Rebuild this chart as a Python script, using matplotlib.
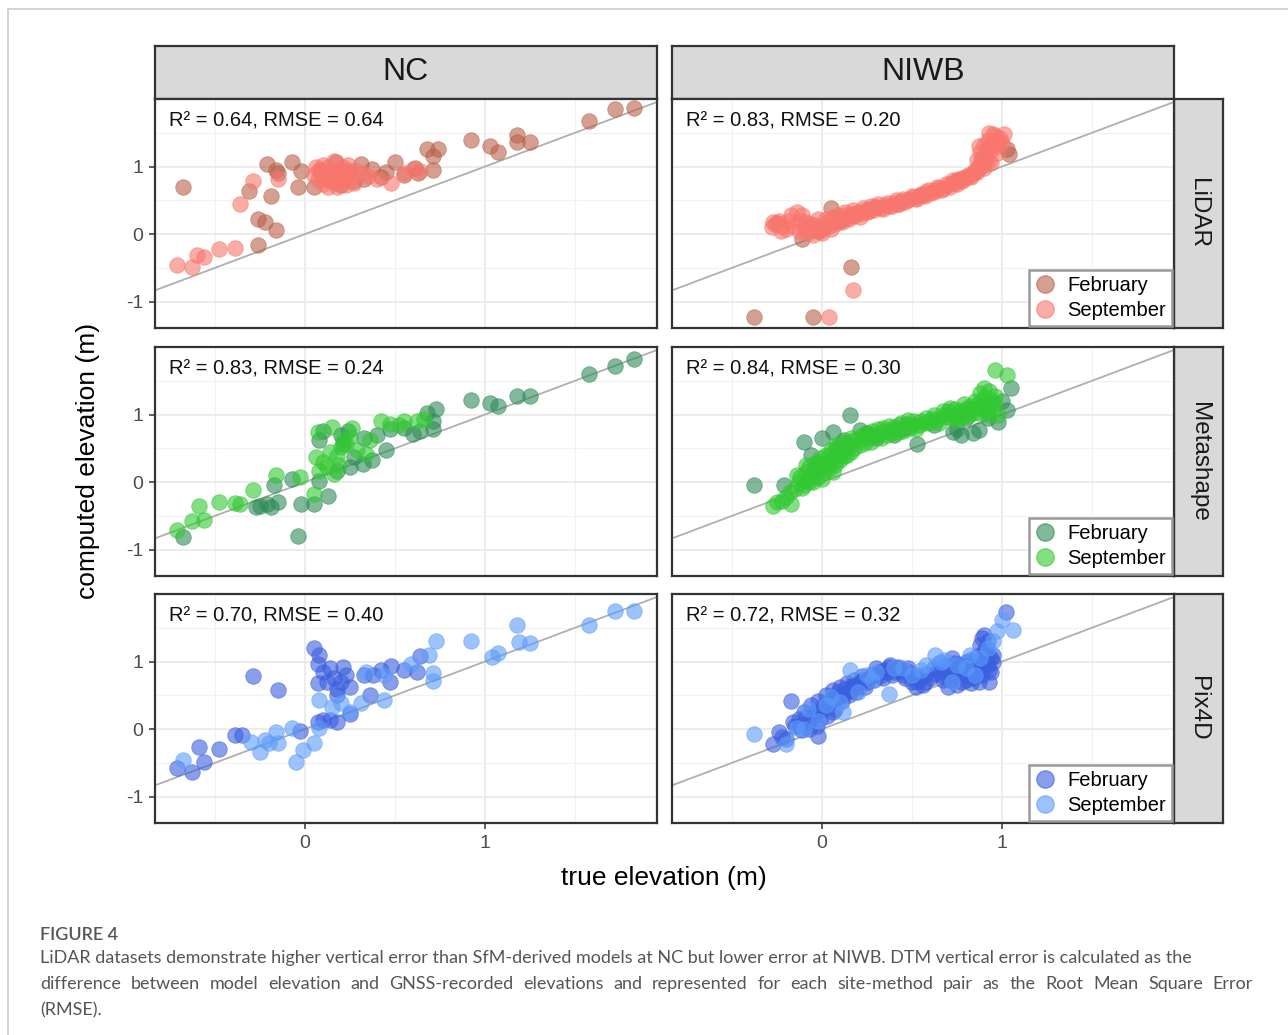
#! /usr/bin/env python3

import matplotlib
matplotlib.use("Agg")
import matplotlib.pyplot as plt
from matplotlib.lines import Line2D

plt.rcParams["axes.unicode_minus"] = False

# ---- data: (true, computed) elevation pairs ----
nc_lidar_feb = [(-0.68, 0.69), (-0.21, 1.04), (-0.16, 0.95), (-0.15, 0.90), (-0.31, 0.64),
                (-0.19, 0.57), (-0.26, 0.22), (-0.22, 0.18), (-0.16, 0.06), (-0.26, -0.16),
                (-0.07, 1.06), (-0.02, 0.94), (-0.04, 0.69), (0.05, 0.69), (0.31, 1.04),
                (0.37, 0.97), (0.50, 1.06), (0.55, 0.87), (0.68, 1.26), (0.74, 1.26),
                (0.71, 1.15), (0.71, 0.95), (0.92, 1.39), (1.03, 1.31), (1.07, 1.21),
                (1.18, 1.46), (1.18, 1.36), (1.25, 1.36), (1.58, 1.67), (1.72, 1.85),
                (1.83, 1.87), (0.09, 0.95), (0.17, 1.07), (0.24, 0.93), (0.27, 0.78),
                (0.14, 0.88), (0.45, 0.92), (0.61, 0.98), (0.63, 0.90), (0.20, 0.72),
                (0.12, 0.81), (0.33, 0.82), (0.42, 0.85)]
nc_lidar_sep = [(-0.71, -0.46), (-0.63, -0.49), (-0.60, -0.31), (-0.56, -0.34), (-0.48, -0.22),
                (-0.39, -0.21), (-0.36, 0.45), (-0.29, 0.78), (-0.15, 0.82), (0.05, 0.88),
                (0.08, 0.95), (0.10, 1.02), (0.12, 0.85), (0.14, 0.92), (0.16, 1.08),
                (0.18, 0.80), (0.20, 0.97), (0.22, 0.90), (0.24, 1.03), (0.26, 0.84),
                (0.28, 0.95), (0.10, 0.74), (0.13, 0.70), (0.17, 0.76), (0.21, 0.99),
                (0.25, 0.86), (0.06, 1.00), (0.11, 0.83), (0.15, 0.78), (0.19, 0.94),
                (0.23, 0.73), (0.32, 0.90), (0.40, 0.82), (0.48, 0.75), (0.55, 0.91),
                (0.60, 0.97), (0.64, 0.93), (0.09, 0.90), (0.16, 0.86), (0.07, 0.80),
                (0.13, 1.00), (0.18, 0.70), (0.22, 0.82), (0.27, 0.76), (0.35, 0.86)]

nc_meta_feb = [(-0.68, -0.81), (-0.04, -0.80), (-0.25, -0.35), (-0.21, -0.33), (-0.15, -0.30),
               (-0.19, -0.37), (-0.27, -0.37), (-0.17, -0.05), (-0.07, 0.05), (-0.02, -0.32),
               (0.05, -0.32), (0.13, -0.20), (0.08, 0.02), (0.18, 0.17), (0.25, 0.22),
               (0.32, 0.27), (0.37, 0.32), (0.45, 0.47), (0.33, 0.66), (0.47, 0.78),
               (0.60, 0.71), (0.64, 0.76), (0.71, 0.78), (0.71, 0.90), (0.68, 1.03),
               (0.73, 1.08), (0.92, 1.22), (1.03, 1.17), (1.07, 1.12), (1.18, 1.28),
               (1.25, 1.28), (1.58, 1.60), (1.72, 1.72), (1.83, 1.82), (0.08, 0.62),
               (0.10, 0.76), (0.20, 0.69), (0.24, 0.76), (0.27, 0.37), (0.21, 0.57),
               (0.40, 0.70), (0.55, 0.80)]
nc_meta_sep = [(-0.71, -0.71), (-0.63, -0.57), (-0.59, -0.36), (-0.56, -0.56), (-0.48, -0.30),
               (-0.39, -0.31), (-0.36, -0.32), (-0.29, -0.11), (-0.16, 0.10), (-0.03, 0.07),
               (0.05, -0.17), (0.07, 0.74), (0.15, 0.81), (0.06, 0.37), (0.08, 0.17),
               (0.12, 0.22), (0.16, 0.12), (0.18, 0.39), (0.20, 0.52), (0.21, 0.62),
               (0.23, 0.57), (0.25, 0.67), (0.29, 0.47), (0.34, 0.42), (0.36, 0.62),
               (0.42, 0.91), (0.47, 0.86), (0.55, 0.91), (0.62, 0.91), (0.66, 0.94),
               (0.10, 0.30), (0.14, 0.45), (0.19, 0.25), (0.26, 0.80), (0.52, 0.84)]

nc_pix_feb = [(-0.71, -0.58), (-0.63, -0.63), (-0.56, -0.49), (-0.59, -0.26), (-0.48, -0.29),
              (-0.39, -0.09), (-0.35, -0.08), (-0.29, 0.78), (-0.15, 0.58), (-0.03, -0.03),
              (0.05, 1.20), (0.08, 1.10), (0.07, 0.97), (0.10, 0.85), (0.07, 0.68),
              (0.14, 0.90), (0.16, 0.75), (0.18, 0.60), (0.21, 0.92), (0.23, 0.80),
              (0.25, 0.63), (0.18, 0.50), (0.07, 0.11), (0.10, 0.13), (0.14, 0.13),
              (0.18, 0.11), (0.25, 0.23), (0.33, 0.80), (0.38, 0.80), (0.42, 0.87),
              (0.48, 0.94), (0.47, 0.70), (0.55, 0.87), (0.62, 0.85), (0.64, 1.08),
              (0.36, 0.50), (0.12, 0.70), (0.20, 0.70)]
nc_pix_sep = [(-0.68, -0.46), (-0.30, -0.19), (-0.25, -0.34), (-0.22, -0.16), (-0.20, -0.21),
              (-0.16, -0.04), (-0.15, -0.21), (-0.07, 0.01), (-0.05, -0.48), (-0.01, -0.31),
              (0.05, -0.21), (0.08, 0.01), (0.08, 0.43), (0.15, 0.33), (0.20, 0.38),
              (0.25, 0.26), (0.31, 0.38), (0.44, 0.43), (0.34, 0.85), (0.44, 0.80),
              (0.59, 0.97), (0.69, 1.10), (0.71, 0.83), (0.71, 0.71), (0.73, 1.30),
              (0.92, 1.30), (1.04, 1.07), (1.07, 1.12), (1.18, 1.54), (1.19, 1.29),
              (1.25, 1.27), (1.58, 1.54), (1.72, 1.75), (1.83, 1.75)]

niwb_lidar_feb = [(-0.38, -1.23), (-0.05, -1.23), (0.16, -0.49), (-0.11, -0.07), (0.05, 0.38),
                  (1.03, 1.26), (1.04, 1.19), (-0.25, 0.17), (0.10, 0.20), (0.30, 0.40),
                  (0.55, 0.58), (0.75, 0.80), (0.90, 1.10), (-0.02, 0.05)]
niwb_lidar_sep = [(-0.28, 0.10), (-0.26, 0.15), (-0.24, 0.20), (-0.22, 0.12), (-0.20, 0.08),
                  (-0.17, 0.28), (-0.14, 0.32), (-0.12, 0.20), (-0.10, 0.10), (-0.08, 0.02),
                  (-0.06, 0.15), (-0.05, -0.02), (-0.03, 0.08), (-0.02, 0.22), (0.00, 0.02),
                  (0.01, 0.12), (0.03, 0.18), (0.05, 0.08), (0.06, 0.26), (0.08, 0.20),
                  (0.10, 0.22), (0.12, 0.28), (0.14, 0.24), (0.16, 0.30), (0.18, 0.27),
                  (0.20, 0.33), (0.22, 0.31), (0.24, 0.36), (0.26, 0.34), (0.28, 0.38),
                  (0.30, 0.40), (0.33, 0.39), (0.35, 0.43), (0.37, 0.42), (0.40, 0.46),
                  (0.42, 0.45), (0.44, 0.49), (0.46, 0.48), (0.49, 0.52), (0.51, 0.55),
                  (0.53, 0.54), (0.56, 0.58), (0.58, 0.62), (0.60, 0.61), (0.63, 0.65),
                  (0.65, 0.68), (0.67, 0.67), (0.70, 0.72), (0.72, 0.75), (0.74, 0.76),
                  (0.76, 0.80), (0.78, 0.79), (0.80, 0.84), (0.82, 0.86), (0.84, 0.90),
                  (0.85, 0.95), (0.86, 0.92), (0.87, 1.00), (0.88, 1.05), (0.88, 1.22),
                  (0.89, 1.12), (0.90, 0.98), (0.90, 1.32), (0.91, 1.18), (0.92, 1.40),
                  (0.93, 1.08), (0.94, 1.25), (0.95, 1.35), (0.96, 1.45), (0.97, 1.20),
                  (0.98, 1.38), (1.01, 1.48), (0.17, -0.83), (0.04, -1.23),
                  (-0.27, 0.18), (-0.23, 0.05), (-0.19, 0.20), (-0.16, 0.12), (-0.13, 0.05),
                  (-0.11, 0.28), (-0.09, 0.18), (-0.07, 0.08), (-0.04, 0.14), (-0.01, 0.05),
                  (0.02, 0.22), (0.04, 0.12), (0.07, 0.15), (0.09, 0.28), (0.11, 0.18),
                  (0.13, 0.32), (0.15, 0.22), (0.17, 0.35), (0.19, 0.30), (0.21, 0.26),
                  (0.23, 0.38), (0.25, 0.32), (0.27, 0.41), (0.29, 0.36), (0.31, 0.44),
                  (0.34, 0.37), (0.36, 0.46), (0.39, 0.42), (0.41, 0.50), (0.43, 0.44),
                  (0.45, 0.52), (0.47, 0.50), (0.50, 0.57), (0.52, 0.52), (0.55, 0.60),
                  (0.57, 0.56), (0.59, 0.66), (0.62, 0.62), (0.64, 0.70), (0.66, 0.65),
                  (0.69, 0.74), (0.71, 0.70), (0.73, 0.80), (0.75, 0.74), (0.77, 0.83),
                  (0.79, 0.82), (0.81, 0.88), (0.83, 0.84), (0.85, 0.92), (0.86, 1.10),
                  (0.87, 1.30), (0.89, 1.02), (0.91, 1.10), (0.92, 1.28), (0.94, 1.05),
                  (0.95, 1.48), (0.97, 1.30), (0.99, 1.42), (1.00, 1.35), (0.93, 1.50)]

niwb_meta_feb = [(-0.38, -0.05), (-0.21, -0.05), (-0.10, 0.59), (0.00, 0.65), (0.06, 0.74),
                 (0.155, 0.99), (0.21, 0.77), (0.53, 0.57), (0.73, 0.74), (0.77, 0.70),
                 (0.87, 0.77), (0.98, 0.89), (1.03, 1.06), (1.05, 1.39), (-0.04, 0.20),
                 (0.08, 0.50), (0.30, 0.66), (0.45, 0.78), (0.62, 0.85), (0.80, 0.95),
                 (0.92, 0.95), (1.00, 1.20), (0.12, 0.62), (0.25, 0.72), (0.75, 0.78),
                 (0.84, 0.72), (0.40, 0.70), (-0.06, 0.40)]
niwb_meta_sep = [(-0.27, -0.35), (-0.25, -0.30), (-0.20, -0.22), (-0.17, -0.32), (-0.15, -0.10),
                 (-0.13, 0.00), (-0.12, 0.08), (-0.10, -0.05), (-0.09, 0.15), (-0.08, 0.05),
                 (-0.07, 0.22), (-0.06, 0.10), (-0.05, 0.00), (-0.04, 0.28), (-0.03, 0.18),
                 (-0.02, 0.08), (-0.01, 0.35), (0.00, 0.25), (0.01, 0.15), (0.02, 0.40),
                 (0.03, 0.30), (0.04, 0.20), (0.05, 0.48), (0.06, 0.35), (0.07, 0.25),
                 (0.08, 0.55), (0.09, 0.42), (0.10, 0.32), (0.11, 0.60), (0.12, 0.48),
                 (0.14, 0.40), (0.15, 0.55), (0.16, 0.65), (0.18, 0.50), (0.20, 0.62),
                 (0.22, 0.70), (0.24, 0.58), (0.26, 0.66), (0.28, 0.75), (0.30, 0.68),
                 (0.32, 0.72), (0.34, 0.80), (0.36, 0.70), (0.38, 0.76), (0.40, 0.82),
                 (0.42, 0.74), (0.44, 0.88), (0.46, 0.80), (0.48, 0.92), (0.50, 0.85),
                 (0.52, 0.78), (0.55, 0.90), (0.58, 0.95), (0.60, 0.88), (0.62, 1.00),
                 (0.64, 0.92), (0.67, 1.05), (0.69, 0.96), (0.71, 1.10), (0.73, 1.00),
                 (0.75, 0.92), (0.77, 1.05), (0.79, 1.15), (0.81, 0.98), (0.83, 1.08),
                 (0.85, 1.20), (0.87, 1.02), (0.89, 1.12), (0.90, 1.25), (0.92, 1.05),
                 (0.93, 1.18), (0.95, 1.10), (0.96, 1.28), (0.90, 1.40), (0.96, 1.66),
                 (1.03, 1.58), (0.98, 1.00),
                 (-0.22, -0.28), (-0.18, -0.15), (-0.14, 0.10), (-0.11, -0.08), (-0.09, 0.25),
                 (-0.07, 0.00), (-0.04, 0.12), (-0.02, 0.30), (0.00, 0.05), (0.02, 0.22),
                 (0.04, 0.38), (0.06, 0.15), (0.08, 0.32), (0.10, 0.50), (0.12, 0.38),
                 (0.13, 0.58), (0.16, 0.45), (0.18, 0.62), (0.21, 0.55), (0.23, 0.66),
                 (0.25, 0.72), (0.27, 0.60), (0.29, 0.70), (0.31, 0.78), (0.33, 0.66),
                 (0.35, 0.75), (0.37, 0.83), (0.39, 0.72), (0.41, 0.78), (0.43, 0.84),
                 (0.45, 0.76), (0.47, 0.86), (0.49, 0.80), (0.51, 0.90), (0.54, 0.84),
                 (0.57, 0.88), (0.61, 0.94), (0.65, 0.88), (0.68, 1.00), (0.70, 1.05),
                 (0.72, 0.95), (0.74, 1.08), (0.76, 1.00), (0.78, 0.96), (0.80, 1.08),
                 (0.82, 1.12), (0.84, 1.02), (0.86, 1.10), (0.88, 1.18), (0.91, 1.08),
                 (0.93, 1.00), (0.94, 1.22), (0.96, 1.15), (0.88, 1.32), (0.93, 1.35)]

niwb_pix_feb = [(-0.27, -0.22), (-0.24, -0.05), (-0.22, -0.12), (-0.17, 0.42), (-0.15, 0.05),
                (-0.13, 0.15), (-0.11, -0.02), (-0.10, 0.25), (-0.08, 0.10), (-0.06, 0.35),
                (-0.05, 0.18), (-0.03, 0.05), (-0.02, 0.42), (0.00, 0.28), (0.02, 0.50),
                (0.04, 0.38), (0.06, 0.58), (0.08, 0.45), (0.10, 0.62), (0.12, 0.52),
                (0.14, 0.68), (0.16, 0.58), (0.18, 0.72), (0.20, 0.62), (0.22, 0.78),
                (0.25, 0.70), (0.28, 0.80), (0.30, 0.90), (0.32, 0.78), (0.35, 0.88),
                (0.38, 0.95), (0.40, 0.84), (0.42, 0.92), (0.45, 0.80), (0.48, 0.90),
                (0.50, 0.70), (0.52, 0.62), (0.55, 0.75), (0.58, 0.82), (0.62, 0.90),
                (0.65, 0.98), (0.67, 0.72), (0.68, 0.85), (0.70, 0.62), (0.72, 1.05),
                (0.74, 0.80), (0.76, 0.95), (0.78, 0.70), (0.80, 1.00), (0.82, 0.85),
                (0.84, 0.75), (0.86, 1.08), (0.88, 0.92), (0.88, 1.25), (0.90, 1.40),
                (0.91, 1.02), (0.92, 1.30), (0.93, 0.88), (0.95, 1.10), (0.95, 1.00),
                (1.02, 1.74), (-0.02, -0.10),
                (-0.20, -0.15), (-0.16, 0.10), (-0.12, 0.05), (-0.09, 0.18), (-0.07, 0.00),
                (-0.04, 0.25), (-0.01, 0.15), (0.01, 0.35), (0.03, 0.20), (0.05, 0.45),
                (0.07, 0.30), (0.09, 0.55), (0.11, 0.42), (0.13, 0.60), (0.15, 0.50),
                (0.17, 0.65), (0.19, 0.55), (0.21, 0.70), (0.24, 0.62), (0.26, 0.75),
                (0.29, 0.72), (0.31, 0.82), (0.34, 0.75), (0.36, 0.85), (0.39, 0.80),
                (0.41, 0.90), (0.44, 0.85), (0.46, 0.75), (0.49, 0.82), (0.51, 0.78),
                (0.53, 0.70), (0.56, 0.65), (0.60, 0.75), (0.66, 0.80), (0.69, 0.95),
                (0.71, 0.72), (0.73, 0.90), (0.75, 0.65), (0.77, 0.85), (0.79, 0.78),
                (0.81, 0.95), (0.83, 0.68), (0.85, 0.90), (0.87, 1.00), (0.89, 0.80),
                (0.90, 1.15), (0.92, 0.95), (0.94, 1.05), (0.89, 1.35), (0.91, 1.20),
                (0.93, 0.70),
                (0.33, 0.86), (0.37, 0.92), (0.43, 0.88), (0.47, 0.86), (0.52, 0.80),
                (0.54, 0.72), (0.57, 0.70), (0.63, 0.82), (0.70, 0.88), (0.74, 0.98),
                (0.78, 0.92), (0.80, 0.72), (0.82, 1.02), (0.84, 0.92), (0.86, 0.80),
                (0.87, 0.70), (0.90, 0.92), (0.92, 1.10), (0.94, 0.85), (0.89, 1.05),
                (0.06, 0.25), (0.10, 0.48), (0.14, 0.55), (0.18, 0.64), (0.23, 0.72)]
niwb_pix_sep = [(-0.38, -0.07), (-0.20, -0.22), (-0.14, 0.02), (-0.08, 0.30), (-0.02, 0.12),
                (0.05, 0.48), (0.115, 0.25), (0.155, 0.87), (0.20, 0.55), (0.28, 0.72),
                (0.37, 0.52), (0.40, 0.90), (0.50, 0.80), (0.58, 0.95), (0.63, 1.09),
                (0.68, 1.02), (0.75, 0.95), (0.82, 1.10), (0.85, 0.80), (0.92, 1.20),
                (0.97, 1.45), (1.00, 1.61), (1.06, 1.46), (0.30, 0.85), (0.10, 0.40),
                (0.25, 0.80), (0.45, 0.90), (0.55, 0.88), (0.66, 1.00), (0.72, 0.70),
                (0.80, 0.90), (0.88, 1.05), (0.95, 1.30), (-0.10, 0.00), (0.02, 0.35)]

sites = ["NC", "NIWB"]
methods = ["LiDAR", "Metashape", "Pix4D"]
months = ["February", "September"]

r2 = {("NC", "LiDAR"): 0.64, ("NIWB", "LiDAR"): 0.83,
      ("NC", "Metashape"): 0.83, ("NIWB", "Metashape"): 0.84,
      ("NC", "Pix4D"): 0.70, ("NIWB", "Pix4D"): 0.72}
rmse = {("NC", "LiDAR"): 0.64, ("NIWB", "LiDAR"): 0.20,
        ("NC", "Metashape"): 0.24, ("NIWB", "Metashape"): 0.30,
        ("NC", "Pix4D"): 0.40, ("NIWB", "Pix4D"): 0.32}

points = {
    ("NC", "LiDAR"): (nc_lidar_feb, nc_lidar_sep),
    ("NC", "Metashape"): (nc_meta_feb, nc_meta_sep),
    ("NC", "Pix4D"): (nc_pix_feb, nc_pix_sep),
    ("NIWB", "LiDAR"): (niwb_lidar_feb, niwb_lidar_sep),
    ("NIWB", "Metashape"): (niwb_meta_feb, niwb_meta_sep),
    ("NIWB", "Pix4D"): (niwb_pix_feb, niwb_pix_sep),
}

colors = {
    "LiDAR": ("#B9614A", "#F8766D"),
    "Metashape": ("#2E8B57", "#32C832"),
    "Pix4D": ("#3A5FDF", "#5C9CFA"),
}

caption_title = "FIGURE 4"
caption_lines = [
    "LiDAR datasets demonstrate higher vertical error than SfM-derived models at NC but lower error at NIWB. DTM vertical error is calculated as the",
    "difference between model elevation and GNSS-recorded elevations and represented for each site-method pair as the Root Mean Square Error",
    "(RMSE).",
]

W, H = 1288, 1035
FONT = "Liberation Sans"
ALPHA = 0.6


def px_axes(fig, x0, y0, x1, y1):
    return fig.add_axes([x0 / W, 1 - y1 / H, (x1 - x0) / W, (y1 - y0) / H])


def strip(fig, box, label, rotation=0, size=21):
    ax = px_axes(fig, *box)
    ax.set_facecolor("#D9D9D9")
    ax.set_xticks([])
    ax.set_yticks([])
    for s in ax.spines.values():
        s.set_color("#333333")
        s.set_linewidth(1.6)
    ax.text(0.5, 0.5, label, transform=ax.transAxes, ha="center", va="center",
            rotation=rotation, fontsize=size, family=FONT, color="#1A1A1A")


def justified(fig, text, x0, x1, y, **kw):
    # spread the words of one caption line between x0 and x1 (pixels)
    words = text.split(" ")
    r = fig.canvas.get_renderer()
    arts = [fig.text(0, y, w, ha="left", va="center", **kw) for w in words]
    widths = [a.get_window_extent(r).width for a in arts]
    gap = (x1 - x0 - sum(widths)) / (len(words) - 1)
    x = x0
    for a, w in zip(arts, widths):
        a.set_x(x / W)
        x += w + gap


def main():
    fig = plt.figure(figsize=(W / 100, H / 100), dpi=100)

    col_x = [(155, 657), (672, 1174)]
    row_y = [(99, 328), (347, 576), (594, 823)]

    for j, site in enumerate(sites):
        strip(fig, (col_x[j][0], 46, col_x[j][1], 99), site, size=23)
    for i, method in enumerate(methods):
        strip(fig, (1174, row_y[i][0], 1223, row_y[i][1]), method, rotation=-90, size=17.5)

    for i, method in enumerate(methods):
        for j, site in enumerate(sites):
            ax = px_axes(fig, col_x[j][0], row_y[i][0], col_x[j][1], row_y[i][1])
            ax.set_xlim(-0.833, 1.956)
            ax.set_ylim(-1.39, 2.0)
            ax.set_xticks([0, 1])
            ax.set_yticks([-1, 0, 1])
            ax.set_xticks([-0.5, 0.5, 1.5], minor=True)
            ax.set_yticks([-0.5, 0.5, 1.5], minor=True)
            ax.grid(True, which="major", color="#EBEBEB", linewidth=1.3, zorder=0)
            ax.grid(True, which="minor", color="#F2F2F2", linewidth=0.9, zorder=0)
            ax.set_axisbelow(True)
            ax.tick_params(which="minor", length=0)
            ax.tick_params(which="major", length=4.5, width=1.1, color="#333333",
                           labelsize=14, labelcolor="#4D4D4D", pad=4)
            for lab in ax.get_xticklabels() + ax.get_yticklabels():
                lab.set_family(FONT)
            if j != 0:
                ax.tick_params(axis="y", left=False, labelleft=False)
            if i != 2:
                ax.tick_params(axis="x", bottom=False, labelbottom=False)
            for s in ax.spines.values():
                s.set_color("#333333")
                s.set_linewidth(1.6)

            ax.axline((0, 0), slope=1, color="#AFAFAF", linewidth=1.3, zorder=1)

            feb, sep = points[(site, method)]
            c_feb, c_sep = colors[method]
            for data, c, zo in ((feb, c_feb, 2), (sep, c_sep, 3)):
                xs = [p[0] for p in data]
                ys = [p[1] for p in data]
                ax.scatter(xs, ys, s=125, color=c, alpha=ALPHA, edgecolors=c,
                           linewidths=0.6, zorder=zo)

            ax.text(0.028, 0.905, f"R\u00b2 = {r2[(site, method)]:.2f}, RMSE = {rmse[(site, method)]:.2f}",
                    transform=ax.transAxes, ha="left", va="center", fontsize=14.5,
                    family=FONT, color="#111111")

            if site == "NIWB":
                handles = [Line2D([], [], linestyle="none", marker="o", markersize=12.5,
                                  color=c, alpha=ALPHA) for c in colors[method]]
                leg = ax.legend(handles, months, loc="lower right",
                                prop={"family": FONT, "size": 14.5},
                                fancybox=False, framealpha=1, edgecolor="#9A9A9A",
                                borderaxespad=0.1, borderpad=0.3, labelspacing=0.3,
                                handlelength=1.0, handletextpad=0.6)
                leg.get_frame().set_linewidth(1.8)
                leg.set_zorder(5)

    fig.text(88 / W, 1 - 461 / H, "computed elevation (m)", rotation=90,
             ha="center", va="center", fontsize=19, family=FONT)
    fig.text(664 / W, 1 - 878 / H, "true elevation (m)", ha="center", va="center",
             fontsize=19, family=FONT)

    # page frame and caption
    fig.add_artist(Line2D([8 / W, 1], [1 - 9 / H, 1 - 9 / H], transform=fig.transFigure,
                          color="#CCCCCC", linewidth=1.2))
    fig.add_artist(Line2D([8 / W, 8 / W], [1 - 9 / H, 0], transform=fig.transFigure,
                          color="#CCCCCC", linewidth=1.2))
    fig.text(40 / W, 1 - 935 / H, caption_title, ha="left", va="center", fontsize=13,
             family="Lato", color="#555555", fontweight="semibold")
    cap_kw = dict(fontsize=13, family="Lato", color="#555555")
    fig.text(40 / W, 1 - 958 / H, caption_lines[0], ha="left", va="center", **cap_kw)
    justified(fig, caption_lines[1], 40, 1253, 1 - 984 / H, **cap_kw)
    fig.text(40 / W, 1 - 1010 / H, caption_lines[2], ha="left", va="center", **cap_kw)

    fig.savefig("out.png", dpi=100)
    plt.close(fig)


if __name__ == "__main__":
    main()
